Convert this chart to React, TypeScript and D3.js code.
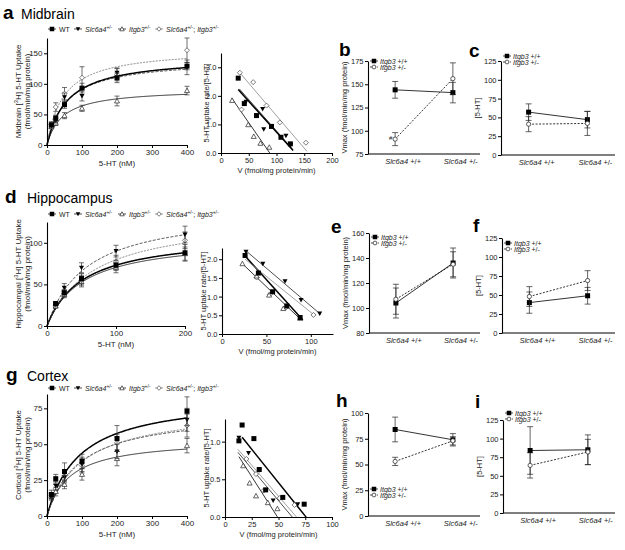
import React, { useEffect, useRef } from "react";
import * as d3 from "d3";

const FONT = "'Liberation Sans', Arial, Helvetica, sans-serif";

// order of series everywhere: WT, Slc6a4+/-, Itgb3+/-, Slc6a4+/-;Itgb3+/-
const kinds = ["square", "down", "up", "diamond"];

// ---------- Midbrain saturation ----------
const midConc = [12.5, 25, 50, 100, 200, 400];
const midWT = [33, 44, 66, 93, 110, 129];
const midWTErr = [3, 5, 6, 8, 8, 6];
const midSlc = [31, 40, 78, 80, 118, 127];
const midSlcErr = [3, 4, 7, 8, 8, 12];
const midItg = [30, 36, 48, 60, 72, 89];
const midItgErr = [3, 4, 5, 5, 8, 7];
const midDbl = [34, 62, 84, 110, 115, 155];
const midDblErr = [4, 7, 10, 18, 10, 20];
const midVmax = [145, 141, 92, 158];
const midKm = [58, 55, 44, 47];

// Midbrain Eadie-Hofstee
const midEhV = [
  [31, 42, 64, 91, 108, 125],
  [45, 75, 77, 117, 125],
  [20, 49, 59, 71, 87],
  [34, 37, 58, 82, 106, 153],
];
const midEhR = [
  [2.62, 1.73, 1.31, 0.93, 0.55, 0.32],
  [1.79, 1.54, 0.83, 0.6, 0.28],
  [1.84, 0.99, 0.58, 0.34, 0.2],
  [2.81, 1.52, 2.48, 1.66, 1.07, 0.36],
];
const midEhSlope = [-0.0215, -0.022, -0.028, -0.02275];
const midEhIntercept = [2.885, 2.97, 2.46, 3.58];
const midEhStart = [31, 33, 19, 33];
const midEhEnd = [130, 128, 88, 155];

// ---------- Hippocampus saturation ----------
const hipConc = [12.5, 25, 50, 100, 200];
const hipWT = [27, 40, 57, 73, 88];
const hipWTErr = [2, 4, 6, 6, 10];
const hipSlc = [26, 46, 70, 90, 110];
const hipSlcErr = [3, 5, 6, 7, 10];
const hipItg = [24, 38, 53, 70, 87];
const hipItgErr = [2, 4, 6, 6, 8];
const hipDbl = [25, 39, 55, 77, 103];
const hipDblErr = [3, 4, 6, 8, 10];
const hipVmax = [111, 141, 107, 133];
const hipKm = [52, 57, 52, 67];

const hipEhV = [
  [26, 41, 57, 73, 88],
  [27, 46, 71, 89, 110],
  [23, 39, 53, 69, 88],
  [39, 54, 72, 103],
];
const hipEhR = [
  [2.1, 1.63, 1.13, 0.75, 0.44],
  [2.2, 1.88, 1.41, 0.91, 0.55],
  [1.88, 1.55, 1.04, 0.68, 0.42],
  [1.51, 1.06, 0.71, 0.51],
];
const hipEhSlope = [-0.0263, -0.0202, -0.0227, -0.0192];
const hipEhIntercept = [2.77, 2.77, 2.4, 2.5];
const hipEhStart = [24, 27, 23, 26];
const hipEhEnd = [91, 111, 89, 104];

// ---------- Cortex saturation ----------
const ctxConc = [12.5, 25, 50, 100, 200, 400];
const ctxWT = [15, 26, 31, 38, 54, 73];
const ctxWTErr = [3, 3, 6, 5, 9, 10];
const ctxSlc = [13, 21, 27, 36, 45, 67];
const ctxSlcErr = [2, 3, 4, 5, 5, 8];
const ctxItg = [14, 17, 22, 29, 40, 49];
const ctxItgErr = [2, 3, 3, 4, 5, 5];
const ctxDbl = [14, 19, 28, 35, 51, 63];
const ctxDblErr = [2, 3, 4, 5, 6, 8];
const ctxVmax = [84, 73, 54, 76];
const ctxKm = [92, 90, 63, 101];

const ctxEhV = [
  [13, 16, 27, 32, 38, 54, 74],
  [13, 22, 32, 45, 68],
  [17, 23, 29, 40, 49],
  [20, 29, 36, 51, 65],
];
const ctxEhR = [
  [1.01, 1.22, 1.04, 0.63, 0.36, 0.26, 0.17],
  [1.05, 0.85, 0.62, 0.22, 0.17],
  [0.68, 0.45, 0.28, 0.19, 0.11],
  [0.77, 0.57, 0.35, 0.25, 0.16],
];
const ctxEhSlope = [-0.0177, -0.0169, -0.0222, -0.0164];
const ctxEhIntercept = [1.34, 1.062, 1.089, 1.096];
const ctxEhStart = [16, 12, 13, 12];
const ctxEhEnd = [76, 63, 49, 67];

// ---------- Interaction plots (Itgb3 +/+ vs +/-) ----------
const slcGroups = ["+/+", "+/-"];
const bVmaxWT = [144, 141];
const bVmaxWTErr = [9, 11];
const bVmaxHet = [91, 156];
const bVmaxHetErr = [7, 17];
const c5htWT = [57, 47];
const c5htWTErr = [11, 11];
const c5htHet = [41, 42];
const c5htHetErr = [10, 16];
const eVmaxWT = [104, 136];
const eVmaxWTErr = [12, 12];
const eVmaxHet = [107, 135];
const eVmaxHetErr = [12, 10];
const f5htWT = [40, 49];
const f5htWTErr = [14, 11];
const f5htHet = [48, 69];
const f5htHetErr = [13, 13];
const hVmaxWT = [84, 74];
const hVmaxWTErr = [12, 6];
const hVmaxHet = [53, 73];
const hVmaxHetErr = [4, 4];
const i5htWT = [84, 85];
const i5htWTErr = [32, 20];
const i5htHet = [64, 82];
const i5htHetErr = [17, 17];

// ---------- helpers ----------
function Marker({ kind, x, y, s = 5 }: { kind: string; x: number; y: number; s?: number }) {
  const h = s / 2;
  if (kind === "square") return <rect x={x - h} y={y - h} width={s} height={s} fill="#000" />;
  if (kind === "down")
    return <path d={`M${x - h},${y - h * 0.8}L${x + h},${y - h * 0.8}L${x},${y + h}Z`} fill="#000" />;
  if (kind === "up")
    return (
      <path d={`M${x - h},${y + h * 0.8}L${x + h},${y + h * 0.8}L${x},${y - h}Z`} fill="#fff" stroke="#222" strokeWidth={0.7} />
    );
  if (kind === "diamond")
    return (
      <path d={`M${x},${y - h}L${x + h},${y}L${x},${y + h}L${x - h},${y}Z`} fill="#fff" stroke="#444" strokeWidth={0.7} />
    );
  return <circle cx={x} cy={y} r={h * 0.85} fill="#fff" stroke="#333" strokeWidth={0.8} />;
}

function Axis({ scale, orient, transform, ticks, format, fontSize = 8 }: any) {
  const ref = useRef<SVGGElement | null>(null);
  useEffect(() => {
    const g = d3.select(ref.current);
    const axis = (orient === "left" ? d3.axisLeft(scale) : d3.axisBottom(scale))
      .tickValues(ticks)
      .tickSizeOuter(0)
      .tickSizeInner(3)
      .tickPadding(1.5);
    if (format) axis.tickFormat(format);
    g.call(axis as any);
    g.attr("font-family", FONT).attr("font-size", fontSize);
    g.select(".domain").attr("stroke", "#000").attr("stroke-width", 1.1);
    g.selectAll(".tick line").attr("stroke", "#000").attr("stroke-width", 1);
    g.selectAll(".tick text").attr("fill", "#222");
  });
  return <g ref={ref} transform={transform} />;
}

function Sup({ children }: { children: string }) {
  return (
    <tspan dy={-3} fontSize="0.7em">
      {children}
    </tspan>
  );
}

function MMLegend({ y }: { y: number }) {
  const items = [
    { x: 48, label: [<tspan key="a">WT</tspan>] },
    {
      x: 74,
      label: [
        <tspan key="a" fontStyle="italic">Slc6a4</tspan>,
        <Sup key="b">+/-</Sup>,
      ],
    },
    {
      x: 118,
      label: [
        <tspan key="a" fontStyle="italic">Itgb3</tspan>,
        <Sup key="b">+/-</Sup>,
      ],
    },
    {
      x: 155,
      label: [
        <tspan key="a" fontStyle="italic">Slc6a4</tspan>,
        <Sup key="b">+/-</Sup>,
        <tspan key="c" dy={3}>; </tspan>,
        <tspan key="d" fontStyle="italic">Itgb3</tspan>,
        <Sup key="e">+/-</Sup>,
      ],
    },
  ];
  return (
    <g fontFamily={FONT} fontSize={7}>
      {items.map((it, i) => (
        <g key={i}>
          <line x1={it.x} x2={it.x + 8} y1={y} y2={y} stroke={i === 3 ? "#777" : "#000"} strokeWidth={0.7} />
          <Marker kind={kinds[i]} x={it.x + 4} y={y} s={4.5} />
          <text x={it.x + 11} y={y + 2.5} fill="#222">
            {it.label}
          </text>
        </g>
      ))}
    </g>
  );
}

const curveStyle = [
  { stroke: "#000", width: 1.5, dash: undefined },
  { stroke: "#000", width: 0.7, dash: "3,1.5" },
  { stroke: "#000", width: 0.8, dash: undefined },
  { stroke: "#666", width: 0.8, dash: "2,1.2" },
];

function MMPanel(p: any) {
  const x = d3.scaleLinear().domain([0, p.xMax]).range([p.left, p.right]);
  const y = d3.scaleLinear().domain([0, p.yMax]).range([p.bottom, p.top]);
  const line = d3.line();
  const samples = d3.range(0, p.xMax + 0.001, p.xMax / 200);
  const means = [p.wt, p.slc, p.itg, p.dbl];
  const errs = [p.wtErr, p.slcErr, p.itgErr, p.dblErr];
  const mid = (p.top + p.bottom) / 2;
  return (
    <g>
      {[0, 1, 2, 3].map((i) => (
        <path
          key={i}
          d={line(samples.map((s) => [x(s), y((p.vmax[i] * s) / (p.km[i] + s))])) || ""}
          fill="none"
          stroke={curveStyle[i].stroke}
          strokeWidth={curveStyle[i].width}
          strokeDasharray={curveStyle[i].dash}
        />
      ))}
      {[3, 2, 1, 0].map((i) =>
        p.conc.map((c: number, j: number) => {
          const m = means[i][j];
          const e = errs[i][j];
          return (
            <g key={`${i}-${j}`}>
              <line x1={x(c)} x2={x(c)} y1={y(m - e)} y2={y(m + e)} stroke="#333" strokeWidth={0.7} />
              <line x1={x(c) - 2.5} x2={x(c) + 2.5} y1={y(m - e)} y2={y(m - e)} stroke="#333" strokeWidth={0.7} />
              <line x1={x(c) - 2.5} x2={x(c) + 2.5} y1={y(m + e)} y2={y(m + e)} stroke="#333" strokeWidth={0.7} />
              <Marker kind={kinds[i]} x={x(c)} y={y(m)} s={5} />
            </g>
          );
        })
      )}
      <Axis scale={x} orient="bottom" transform={`translate(0,${p.bottom})`} ticks={p.xTicks} />
      <Axis scale={y} orient="left" transform={`translate(${p.left},0)`} ticks={p.yTicks} />
      <text x={(p.left + p.right) / 2} y={p.bottom + 21} textAnchor="middle" fontFamily={FONT} fontSize={8} fill="#222">
        5-HT (nM)
      </text>
      <text transform={`translate(21,${mid}) rotate(-90)`} textAnchor="middle" fontFamily={FONT} fontSize={8} fill="#222">
        {p.region} [<Sup>3</Sup>
        <tspan dy={3}>H] 5-HT Uptake</tspan>
      </text>
      <text transform={`translate(30,${mid}) rotate(-90)`} textAnchor="middle" fontFamily={FONT} fontSize={8} fill="#222">
        (fmol/min/mg protein)
      </text>
      <MMLegend y={p.legendY} />
    </g>
  );
}

const ehStyle = [
  { stroke: "#000", width: 1.5 },
  { stroke: "#000", width: 0.7 },
  { stroke: "#000", width: 0.8 },
  { stroke: "#888", width: 0.8 },
];

function EHPanel(p: any) {
  const x = d3.scaleLinear().domain([0, p.xMax]).range([p.left, p.right]);
  const y = d3.scaleLinear().domain([0, p.yMax]).range([p.bottom, p.top]);
  const mid = (p.top + p.bottom) / 2;
  return (
    <g>
      {[0, 1, 2, 3].map((i) => (
        <line
          key={i}
          x1={x(p.start[i])}
          x2={x(p.end[i])}
          y1={y(p.intercept[i] + p.slope[i] * p.start[i])}
          y2={y(p.intercept[i] + p.slope[i] * p.end[i])}
          stroke={ehStyle[i].stroke}
          strokeWidth={ehStyle[i].width}
        />
      ))}
      {[3, 2, 1, 0].map((i) =>
        p.v[i].map((v: number, j: number) => (
          <Marker key={`${i}-${j}`} kind={kinds[i]} x={x(v)} y={y(p.r[i][j])} s={5} />
        ))
      )}
      <Axis scale={x} orient="bottom" transform={`translate(0,${p.bottom})`} ticks={p.xTicks} fontSize={7.5} />
      <Axis scale={y} orient="left" transform={`translate(${p.left},0)`} ticks={p.yTicks} format={p.yFormat} fontSize={7.5} />
      <text x={(p.left + p.right) / 2} y={p.bottom + 20} textAnchor="middle" fontFamily={FONT} fontSize={7.5} fill="#222">
        V (fmol/mg protein/min)
      </text>
      <text transform={`translate(${p.left - p.labelOffset},${mid}) rotate(-90)`} textAnchor="middle" fontFamily={FONT} fontSize={7.5} fill="#222">
        5-HT uptake rate/[5-HT]
      </text>
    </g>
  );
}

function InteractionPanel(p: any) {
  const x = d3.scalePoint().domain(slcGroups).range([p.left, p.right]).padding(0.47);
  const y = d3.scaleLinear().domain(p.yDomain).range([p.bottom, p.top]);
  const mid = (p.top + p.bottom) / 2;
  const series = [
    { m: p.wt, e: p.wtErr, kind: "square", dash: undefined },
    { m: p.het, e: p.hetErr, kind: "circle", dash: "2,1.5" },
  ];
  const ly = p.legendY;
  return (
    <g>
      {series.map((s, k) => (
        <g key={k}>
          <line
            x1={x(slcGroups[0])}
            x2={x(slcGroups[1])}
            y1={y(s.m[0])}
            y2={y(s.m[1])}
            stroke="#000"
            strokeWidth={0.8}
            strokeDasharray={s.dash}
          />
          {slcGroups.map((g, j) => {
            const cx = x(g) as number;
            return (
              <g key={g}>
                <line x1={cx} x2={cx} y1={y(s.m[j] - s.e[j])} y2={y(s.m[j] + s.e[j])} stroke="#222" strokeWidth={0.7} />
                <line x1={cx - 3} x2={cx + 3} y1={y(s.m[j] - s.e[j])} y2={y(s.m[j] - s.e[j])} stroke="#222" strokeWidth={0.7} />
                <line x1={cx - 3} x2={cx + 3} y1={y(s.m[j] + s.e[j])} y2={y(s.m[j] + s.e[j])} stroke="#222" strokeWidth={0.7} />
                <Marker kind={s.kind} x={cx} y={y(s.m[j])} s={5} />
              </g>
            );
          })}
        </g>
      ))}
      <Axis scale={y} orient="left" transform={`translate(${p.left},0)`} ticks={p.yTicks} fontSize={7.5} />
      <line x1={p.left} x2={p.right} y1={p.bottom} y2={p.bottom} stroke="#000" strokeWidth={1.1} />
      {slcGroups.map((g) => (
        <text key={g} x={(x(g) as number) + 8} y={p.bottom + 10} textAnchor="middle" fontFamily={FONT} fontSize={7.5} fill="#222">
          <tspan fontStyle="italic">Slc6a4</tspan> {g}
        </text>
      ))}
      <text transform={`translate(${p.left - 21},${mid}) rotate(-90)`} textAnchor="middle" fontFamily={FONT} fontSize={7.5} fill="#222">
        {p.yLabel}
      </text>
      {series.map((s, k) => (
        <g key={k} fontFamily={FONT} fontSize={7}>
          <line x1={p.left + 2} x2={p.left + 10} y1={ly + k * 6} y2={ly + k * 6} stroke="#000" strokeWidth={0.7} strokeDasharray={s.dash} />
          <Marker kind={s.kind} x={p.left + 6} y={ly + k * 6} s={4.5} />
          <text x={p.left + 12} y={ly + k * 6 + 2.5} fill="#222">
            <tspan fontStyle="italic">Itgb3</tspan> {k === 0 ? "+/+" : "+/-"}
          </text>
        </g>
      ))}
    </g>
  );
}

function Letter({ x, y, t }: { x: number; y: number; t: string }) {
  return (
    <text x={x} y={y} fontFamily={FONT} fontWeight="bold" fontSize={19} fill="#000">
      {t}
    </text>
  );
}

export default function App() {
  const vmaxLabel = "Vmax (fmol/min/mg protein)";
  return (
    <svg width={625} height={550} style={{ position: "absolute", left: 0, top: 0, background: "#fff" }}>
      <rect width={625} height={550} fill="#fff" />
      {/* titles */}
      <Letter x={3} y={19} t="a" />
      <text x={21} y={19} fontFamily={FONT} fontSize={14}>Midbrain</text>
      <Letter x={5} y={203} t="d" />
      <text x={27} y={203} fontFamily={FONT} fontSize={14}>Hippocampus</text>
      <Letter x={6} y={381} t="g" />
      <text x={27} y={381} fontFamily={FONT} fontSize={14}>Cortex</text>
      <Letter x={339} y={56} t="b" />
      <Letter x={469} y={57} t="c" />
      <Letter x={331} y={233} t="e" />
      <Letter x={473} y={232} t="f" />
      <Letter x={336} y={407} t="h" />
      <Letter x={475} y={408} t="i" />

      <MMPanel
        left={47} right={187} top={38} bottom={145} xMax={400} yMax={175}
        xTicks={[0, 100, 200, 300, 400]} yTicks={[0, 50, 100, 150]}
        conc={midConc} wt={midWT} wtErr={midWTErr} slc={midSlc} slcErr={midSlcErr}
        itg={midItg} itgErr={midItgErr} dbl={midDbl} dblErr={midDblErr}
        vmax={midVmax} km={midKm} region="Midbrain" legendY={29}
      />
      <EHPanel
        left={221} right={332} top={53} bottom={153} xMax={200} yMax={3.5}
        xTicks={[0, 50, 100, 150, 200]} yTicks={[0, 1, 2, 3]} labelOffset={12}
        v={midEhV} r={midEhR} slope={midEhSlope} intercept={midEhIntercept} start={midEhStart} end={midEhEnd}
      />
      <InteractionPanel
        left={368} right={480} top={61} bottom={154} yDomain={[75, 175]} yTicks={[75, 100, 125, 150, 175]}
        wt={bVmaxWT} wtErr={bVmaxWTErr} het={bVmaxHet} hetErr={bVmaxHetErr} yLabel={vmaxLabel} legendY={61}
      />
      <text x={389} y={140} fontFamily={FONT} fontSize={6} fill="#222">#</text>
      <InteractionPanel
        left={501} right={615} top={61} bottom={155} yDomain={[0, 125]} yTicks={[0, 25, 50, 75, 100, 125]}
        wt={c5htWT} wtErr={c5htWTErr} het={c5htHet} hetErr={c5htHetErr} yLabel="[5-HT]" legendY={56}
      />

      <MMPanel
        left={47} right={185} top={222} bottom={326} xMax={200} yMax={125}
        xTicks={[0, 100, 200]} yTicks={[0, 50, 100]}
        conc={hipConc} wt={hipWT} wtErr={hipWTErr} slc={hipSlc} slcErr={hipSlcErr}
        itg={hipItg} itgErr={hipItgErr} dbl={hipDbl} dblErr={hipDblErr}
        vmax={hipVmax} km={hipKm} region="Hippocampal" legendY={214}
      />
      <EHPanel
        left={222} right={333} top={248} bottom={334} xMax={125} yMax={2.3}
        xTicks={[0, 50, 100]} yTicks={[0, 0.5, 1, 1.5, 2]} yFormat={d3.format(".1f")} labelOffset={16}
        v={hipEhV} r={hipEhR} slope={hipEhSlope} intercept={hipEhIntercept} start={hipEhStart} end={hipEhEnd}
      />
      <InteractionPanel
        left={369} right={480} top={233} bottom={333} yDomain={[80, 160]} yTicks={[80, 100, 120, 140, 160]}
        wt={eVmaxWT} wtErr={eVmaxWTErr} het={eVmaxHet} hetErr={eVmaxHetErr} yLabel={vmaxLabel} legendY={237}
      />
      <InteractionPanel
        left={502} right={615} top={238} bottom={333} yDomain={[0, 125]} yTicks={[0, 25, 50, 75, 100, 125]}
        wt={f5htWT} wtErr={f5htWTErr} het={f5htHet} hetErr={f5htHetErr} yLabel="[5-HT]" legendY={243}
      />

      <MMPanel
        left={47} right={187} top={394} bottom={516} xMax={400} yMax={85}
        xTicks={[0, 100, 200, 300, 400]} yTicks={[0, 25, 50, 75]}
        conc={ctxConc} wt={ctxWT} wtErr={ctxWTErr} slc={ctxSlc} slcErr={ctxSlcErr}
        itg={ctxItg} itgErr={ctxItgErr} dbl={ctxDbl} dblErr={ctxDblErr}
        vmax={ctxVmax} km={ctxKm} region="Cortical" legendY={388}
      />
      <EHPanel
        left={225} right={332} top={419} bottom={517} xMax={100} yMax={1.3}
        xTicks={[0, 25, 50, 75, 100]} yTicks={[0, 0.5, 1]} yFormat={d3.format(".1f")} labelOffset={16}
        v={ctxEhV} r={ctxEhR} slope={ctxEhSlope} intercept={ctxEhIntercept} start={ctxEhStart} end={ctxEhEnd}
      />
      <InteractionPanel
        left={368} right={480} top={413} bottom={516} yDomain={[0, 100]} yTicks={[0, 25, 50, 75, 100]}
        wt={hVmaxWT} wtErr={hVmaxWTErr} het={hVmaxHet} hetErr={hVmaxHetErr} yLabel={vmaxLabel} legendY={489}
      />
      <InteractionPanel
        left={503} right={615} top={420} bottom={513} yDomain={[0, 125]} yTicks={[0, 25, 50, 75, 100, 125]}
        wt={i5htWT} wtErr={i5htWTErr} het={i5htHet} hetErr={i5htHetErr} yLabel="[5-HT]" legendY={413}
      />
    </svg>
  );
}
